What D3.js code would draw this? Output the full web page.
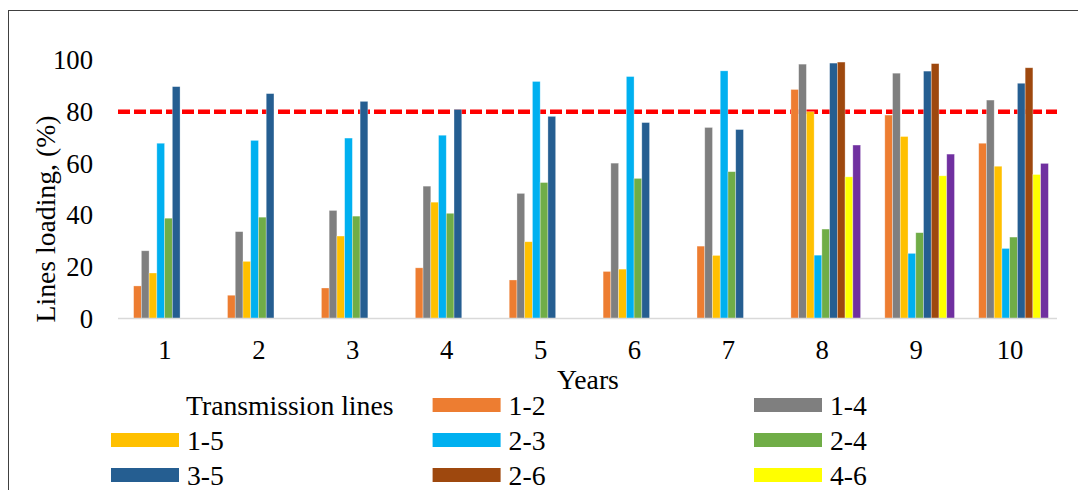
<!DOCTYPE html>
<html>
<head>
<meta charset="utf-8">
<script src="https://cdn.jsdelivr.net/npm/d3@7"></script>
<style>
  html, body { margin: 0; padding: 0; background: #fff; }
  svg { display: block; }
  text { font-family: 'Liberation Serif', 'Times New Roman', Times, 'DejaVu Serif', serif; }
</style>
</head>
<body>
<svg id="chart" width="1078" height="490"></svg>
<script>
// ---- data ----
const years = ["1", "2", "3", "4", "5", "6", "7", "8", "9", "10"];
const seriesNames = ["1-2", "1-4", "1-5", "2-3", "2-4", "3-5", "2-6", "4-6", "5-6"];
const seriesColors = ["#ED7D31", "#7F7F7F", "#FFC000", "#00B0F0", "#70AD47", "#255E91", "#9E480E", "#FFFF00", "#7030A0"];
const line12 = [12.6, 9.0, 11.8, 19.6, 14.9, 18.2, 28.0, 88.6, 78.7, 67.8];
const line14 = [26.2, 33.6, 41.8, 51.2, 48.4, 60.1, 73.9, 98.4, 94.9, 84.5];
const line15 = [17.6, 22.1, 31.9, 45.0, 29.7, 19.1, 24.4, 80.0, 70.4, 58.9];
const line23 = [67.8, 68.9, 69.8, 70.9, 91.7, 93.6, 95.8, 24.5, 25.2, 27.1];
const line24 = [38.8, 39.2, 39.6, 40.7, 52.6, 54.2, 56.8, 34.6, 33.2, 31.5];
const line35 = [89.7, 87.0, 84.0, 80.9, 78.2, 75.8, 73.1, 98.8, 95.7, 91.0];
const line26 = [null, null, null, null, null, null, null, 99.2, 98.6, 97.0];
const line46 = [null, null, null, null, null, null, null, 54.8, 55.2, 55.7];
const line56 = [null, null, null, null, null, null, null, 67.1, 63.6, 60.0];
const seriesValues = [line12, line14, line15, line23, line24, line35, line26, line46, line56];
const yTicks = [0, 20, 40, 60, 80, 100];
const limitValue = 80;
const yTitle = "Lines loading, (%)";
const xTitle = "Years";
const legendTitle = "Transmission lines";

// ---- layout ----
const FONT = "'Liberation Serif', 'Times New Roman', Times, 'DejaVu Serif', serif";
const svg = d3.select("#chart").attr("font-family", FONT);
const plotLeft = 118, plotRight = 1057, plotTop = 60, plotBottom = 318.5;
const tickFont = 26.7;
const titleFont = 27.7;

// border
svg.append("rect")
  .attr("x", 8.5).attr("y", 10.5)
  .attr("width", 1100).attr("height", 600)
  .attr("fill", "none").attr("stroke", "#404040").attr("stroke-width", 1);

const x0 = d3.scaleBand().domain(years).range([plotLeft, plotRight]).padding(0);
const clusterHalf = x0.bandwidth() * 0.371;
const clusterShift = 3.5;
const x1 = d3.scaleBand().domain(seriesNames).range([-clusterHalf, clusterHalf]).padding(0);
const y = d3.scaleLinear().domain([0, 100]).range([plotBottom, plotTop]);

// y tick labels
svg.append("g").selectAll("text").data(yTicks).join("text")
  .attr("x", 93)
  .attr("y", d => y(d))
  .attr("dy", "0.35em")
  .attr("text-anchor", "end")
  .attr("font-family", FONT)
  .attr("font-size", tickFont)
  .attr("fill", "#000")
  .text(d => d);

// limit line (drawn below bars)
svg.append("line")
  .attr("x1", plotLeft).attr("x2", plotRight)
  .attr("y1", y(limitValue)).attr("y2", y(limitValue))
  .attr("stroke", "#FF0000").attr("stroke-width", 4.5)
  .attr("stroke-dasharray", "12,4");

// bars
const barData = [];
seriesNames.forEach((s, si) => {
  years.forEach((yr, yi) => {
    const v = seriesValues[si][yi];
    if (v !== null && v !== undefined) barData.push({ s, yr, v, c: seriesColors[si] });
  });
});
svg.append("g").selectAll("rect").data(barData).join("rect")
  .attr("x", d => x0(d.yr) + x0.bandwidth() / 2 + clusterShift + x1(d.s))
  .attr("y", d => y(d.v))
  .attr("width", x1.bandwidth())
  .attr("height", d => y(0) - y(d.v))
  .attr("fill", d => d.c)
  .attr("stroke", "#ffffff")
  .attr("stroke-opacity", 0.45)
  .attr("stroke-width", 0.7);

// x axis baseline
svg.append("line")
  .attr("x1", plotLeft).attr("x2", plotRight)
  .attr("y1", plotBottom).attr("y2", plotBottom)
  .attr("stroke", "#D9D9D9").attr("stroke-width", 1.5);

// x tick labels
svg.append("g").selectAll("text").data(years).join("text")
  .attr("x", d => x0(d) + x0.bandwidth() / 2)
  .attr("y", 359)
  .attr("text-anchor", "middle")
  .attr("font-family", FONT)
  .attr("font-size", tickFont)
  .attr("fill", "#000")
  .text(d => d);

// axis titles
svg.append("text")
  .attr("x", 588).attr("y", 389)
  .attr("text-anchor", "middle")
  .attr("font-family", FONT)
  .attr("font-size", titleFont)
  .attr("fill", "#000")
  .text(xTitle);

svg.append("text")
  .attr("transform", "translate(55,219) rotate(-90)")
  .attr("text-anchor", "middle")
  .attr("font-family", FONT)
  .attr("font-size", titleFont)
  .attr("fill", "#000")
  .text(yTitle);

// legend
const legendCols = [111, 432.6, 754];
const rowTop = 398, rowStep = 35;
const swW = 68, swH = 14;
const legendItems = [{ title: true, name: legendTitle }]
  .concat(seriesNames.map((n, i) => ({ title: false, name: n, c: seriesColors[i] })));
const lg = svg.append("g");
legendItems.forEach((it, i) => {
  const col = i % 3, row = Math.floor(i / 3);
  if (row > 2) return; // the fourth legend row lies outside the visible frame
  const sx = legendCols[col], sy = rowTop + row * rowStep;
  if (it.title) {
    lg.append("text")
      .attr("x", 186).attr("y", sy + 16.5)
      .attr("font-family", FONT)
      .attr("font-size", titleFont).attr("fill", "#000")
      .text(it.name);
  } else {
    lg.append("rect")
      .attr("x", sx).attr("y", sy)
      .attr("width", swW).attr("height", swH)
      .attr("fill", it.c);
    lg.append("text")
      .attr("x", sx + 76).attr("y", sy + 16.5)
      .attr("font-family", FONT)
      .attr("font-size", titleFont).attr("fill", "#000")
      .text(it.name);
  }
});
</script>
</body>
</html>
